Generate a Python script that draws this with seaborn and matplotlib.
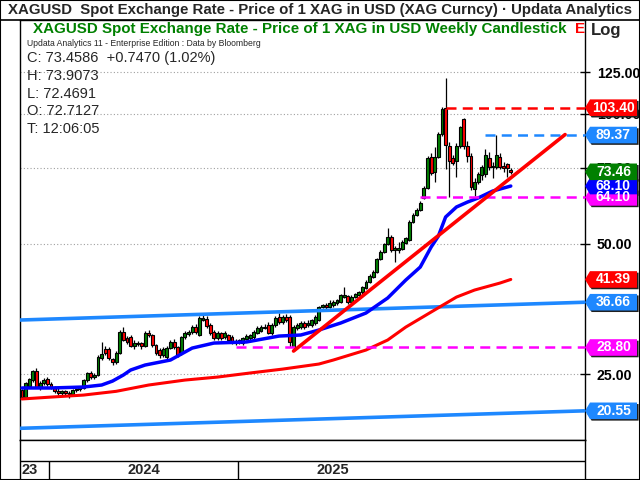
import matplotlib
matplotlib.use("Agg")
import matplotlib.pyplot as plt
from matplotlib.patches import Polygon, Rectangle
import numpy as np
import pandas as pd
import seaborn as sns

sns.set_style("white")
plt.rcParams['font.family'] = ['Liberation Sans', 'DejaVu Sans']

# weekly candles (week ending friday)
first_week = "2023-11-10"
opens = [22.95, 22.11, 23.46, 24.21, 25.40, 23.33, 23.83, 24.34, 23.71, 23.33,
         22.83, 22.59, 22.83, 22.59, 22.47, 22.95, 23.07, 23.21, 24.21, 25.14,
         24.60, 24.87, 27.24, 28.56, 28.56, 27.08, 26.66, 27.96, 31.27, 30.29,
         30.45, 29.02, 29.49, 29.49, 29.02, 31.11, 30.78, 29.18, 28.41, 27.66,
         27.37, 28.71, 29.66, 28.87, 27.96, 30.45, 30.94, 31.27, 32.11, 30.78,
         33.34, 33.52, 32.46, 31.27, 30.29, 31.11, 30.45, 30.78, 30.45, 29.81,
         29.97, 29.49, 30.13, 30.29, 30.45, 31.11, 31.44, 31.95, 32.46, 31.11,
         32.46, 33.88, 32.98, 33.88, 33.88, 28.87, 31.95, 32.11, 32.81, 32.46,
         32.46, 32.81, 33.34, 35.73, 36.11, 35.73, 36.11, 36.50, 36.70, 37.68,
         37.89, 36.70, 37.68, 38.09, 38.70, 39.54, 40.82, 41.93, 43.06, 46.16,
         47.90, 49.99, 51.90, 48.42, 48.42, 48.68, 50.26, 51.07, 56.21, 58.35,
         59.92, 63.88, 67.39, 79.50, 73.38, 79.50, 89.86, 103.40, 84.29, 79.07,
         77.82, 84.29, 97.33, 84.29, 79.90, 67.03, 69.57, 72.22, 72.61, 79.07,
         75.36, 75.36, 79.50, 75.77, 76.58, 74.10]
highs = [23.10, 24.00, 24.50, 25.60, 25.80, 24.10, 24.50, 24.60, 23.90, 23.50,
         23.20, 23.00, 23.00, 22.80, 23.10, 23.20, 23.50, 24.40, 25.30, 25.40,
         25.20, 27.60, 29.66, 29.00, 28.90, 27.30, 28.20, 31.60, 32.10, 30.70,
         30.80, 29.90, 29.80, 29.70, 31.40, 31.60, 31.00, 29.40, 28.70, 28.80,
         29.00, 30.00, 30.20, 29.10, 30.70, 31.50, 31.60, 32.40, 32.60, 34.00,
         34.42, 34.00, 32.80, 31.60, 31.40, 31.30, 31.40, 31.00, 30.80, 30.10,
         30.20, 30.50, 30.90, 31.00, 31.60, 32.30, 32.40, 32.60, 33.00, 32.80,
         34.00, 34.60, 34.20, 34.50, 34.20, 32.40, 32.90, 33.10, 33.20, 33.30,
         33.60, 34.20, 36.00, 36.40, 36.50, 37.00, 37.00, 37.30, 38.30, 39.70,
         38.20, 38.00, 38.60, 39.00, 40.00, 41.20, 42.50, 43.50, 46.50, 48.30,
         50.40, 54.40, 52.50, 49.50, 50.50, 51.00, 52.00, 56.80, 59.00, 60.50,
         62.80, 68.00, 79.80, 81.00, 83.84, 91.00, 104.00, 121.10, 86.00, 80.50,
         85.50, 94.00, 98.00, 86.50, 81.00, 71.00, 73.50, 76.00, 83.00, 81.50,
         77.50, 89.37, 81.00, 77.50, 77.20, 75.00]
lows = [21.90, 21.95, 23.30, 24.00, 23.20, 23.00, 23.60, 23.50, 23.10, 22.60,
        22.30, 22.40, 22.20, 22.00, 22.20, 22.70, 22.90, 23.10, 24.00, 24.40,
        24.40, 24.70, 27.00, 27.70, 27.00, 26.20, 26.40, 27.80, 29.80, 29.40,
        28.80, 28.50, 29.00, 28.60, 28.80, 30.40, 28.90, 27.60, 27.30, 27.40,
        27.10, 28.50, 28.60, 27.40, 27.70, 30.20, 30.70, 31.00, 31.00, 30.60,
        33.10, 32.00, 30.80, 30.00, 30.00, 30.00, 30.20, 29.70, 29.30, 29.20,
        29.40, 29.20, 29.90, 30.00, 30.20, 30.90, 31.20, 31.70, 30.90, 30.80,
        32.20, 32.70, 32.70, 33.00, 28.87, 28.26, 31.60, 31.80, 31.80, 32.20,
        32.20, 32.50, 33.10, 35.50, 35.40, 35.50, 35.80, 36.20, 36.50, 37.40,
        36.40, 36.40, 37.40, 37.80, 38.40, 39.30, 40.60, 41.70, 42.80, 45.90,
        47.60, 49.70, 48.00, 45.42, 47.60, 48.30, 49.90, 50.80, 55.90, 57.90,
        59.50, 63.40, 67.00, 72.30, 69.50, 79.00, 89.00, 74.50, 64.10, 76.00,
        71.50, 83.50, 83.00, 77.50, 66.50, 64.50, 69.00, 70.30, 71.50, 74.00,
        71.00, 74.50, 74.50, 73.50, 71.50, 72.47]
closes = [22.11, 23.83, 24.34, 25.40, 23.33, 23.83, 24.21, 23.71, 23.33, 22.83,
          22.59, 22.83, 22.59, 22.47, 22.95, 23.07, 23.33, 24.21, 25.14, 24.60,
          24.87, 27.37, 27.81, 27.96, 27.24, 26.66, 27.96, 31.27, 29.97, 29.66,
          29.02, 29.49, 29.33, 29.02, 31.11, 30.78, 29.18, 27.96, 27.66, 28.56,
          28.71, 29.66, 28.87, 27.66, 30.45, 31.11, 31.27, 32.11, 31.27, 33.70,
          33.70, 32.29, 31.11, 30.29, 31.11, 30.29, 31.11, 29.97, 29.66, 29.49,
          29.66, 30.29, 30.61, 30.78, 31.27, 31.95, 32.11, 32.11, 31.11, 32.46,
          33.70, 32.98, 33.88, 33.34, 29.66, 32.11, 32.46, 32.81, 32.11, 32.81,
          33.34, 33.88, 35.73, 36.11, 35.73, 36.50, 36.70, 37.09, 38.09, 38.09,
          36.70, 37.68, 38.30, 38.70, 39.75, 40.82, 42.15, 43.06, 46.16, 47.90,
          49.99, 51.90, 48.42, 48.94, 48.94, 50.53, 51.62, 56.21, 58.35, 59.92,
          62.21, 67.39, 79.07, 72.99, 79.50, 89.86, 102.60, 84.74, 77.82, 76.99,
          84.29, 93.26, 84.29, 79.90, 67.75, 69.57, 72.61, 75.36, 80.34, 75.36,
          75.77, 80.34, 75.36, 74.96, 74.96, 73.46]

# moving averages (week index, price)
ma_blue_week = [0, 8, 17, 22, 25, 28, 30, 34, 41, 47, 53, 62, 71, 77, 82, 88,
                95, 101, 106, 110, 113, 115, 117, 120, 123, 126, 130, 135]
ma_blue = [23.21, 23.21, 23.33, 23.58, 24.08, 24.87, 25.54, 26.23, 26.94, 28.71,
           29.49, 29.66, 30.61, 30.78, 31.61, 32.81, 34.61, 37.49, 41.26, 44.22,
           49.19, 52.15, 57.73, 60.90, 62.50, 63.90, 66.30, 68.10]
ma_red_week = [0, 8, 17, 26, 35, 45, 54, 63, 72, 82, 86, 95, 101, 106, 113, 120,
               125, 132, 135]
ma_red = [21.89, 22.11, 22.35, 22.80, 23.58, 24.21, 24.60, 25.14, 25.67, 26.37,
          26.94, 28.41, 29.97, 32.11, 34.79, 37.68, 39.12, 40.60, 41.39]

# trend lines
trend_week = [75, 150]
trend = [28.26, 89.60]
channel_week = [-0.55, 155.5]
channel_upper = [33.34, 36.66]
channel_lower = [18.72, 20.55]

# horizontal levels
level_values = [103.40, 89.37, 64.10, 28.80]
level_start = [117, 128, 110, 59]

# price tags on the right scale
tag_values = [20.55, 28.80, 36.66, 41.39, 64.10, 68.10, 73.46, 89.37, 103.40]

title = "XAGUSD  Spot Exchange Rate - Price of 1 XAG in USD (XAG Curncy) \u00b7 Updata Analytics"
subtitle = "XAGUSD Spot Exchange Rate - Price of 1 XAG in USD Weekly Candlestick"
info_lines = ["C: 73.4586  +0.7470 (1.02%)", "H: 73.9073", "L: 72.4691",
              "O: 72.7127", "T: 12:06:05"]

GREEN = "#008000"
RED = "#FF0000"
DODGER = "#1E88FF"
BLUE = "#0000FF"
MAGENTA = "#FF00FF"
level_colors = [RED, DODGER, MAGENTA, MAGENTA]
tag_colors = [DODGER, MAGENTA, DODGER, RED, MAGENTA, BLUE, GREEN, DODGER, RED]

dates = pd.date_range(first_week, periods=len(closes), freq="W-FRI")
df = pd.DataFrame({"date": dates, "open": opens, "high": highs,
                   "low": lows, "close": closes})
df["week"] = (df["date"] - df["date"].iloc[0]).dt.days / 7

W, H = 640, 480
fig = plt.figure(figsize=(6.4, 4.8), dpi=100)
ax = fig.add_axes([20 / W, 40 / H, 565 / W, 420 / H])
xmin, xmax = channel_week
ax.set_yscale("log")
ax.set_xlim(xmin, xmax)
ax.set_ylim(17.59, 165.0)

# candles
up = df["close"] >= df["open"]
ax.vlines(df["week"], df["low"], df["high"], color="black", lw=0.9, zorder=2)
ax.bar(df["week"], df["close"] - df["open"], bottom=df["open"], width=0.8,
       color=np.where(up, GREEN, RED), edgecolor="black", linewidth=0.8, zorder=2.5)

# lines
sns.lineplot(x=channel_week, y=channel_upper, ax=ax, color=DODGER, lw=2.6, zorder=3)
sns.lineplot(x=channel_week, y=channel_lower, ax=ax, color=DODGER, lw=2.6, zorder=3)
sns.lineplot(x=ma_red_week, y=ma_red, ax=ax, color=RED, lw=2.2, zorder=3)
sns.lineplot(x=ma_blue_week, y=ma_blue, ax=ax, color=BLUE, lw=2.5, zorder=3)
sns.lineplot(x=trend_week, y=trend, ax=ax, color=RED, lw=2.6, zorder=3.5)
for v, s, c in zip(level_values, level_start, level_colors):
    ax.hlines(v, s, xmax, colors=c, lw=1.8, linestyles=(0, (4, 2.5)), zorder=3.2)

# price scale
ticks = [25, 50, 75, 100, 125]
ax.set_yticks(ticks)
ax.set_yticklabels([f"{t:.2f}" for t in ticks], fontweight="bold")
ax.yaxis.set_minor_locator(plt.NullLocator())
ax.yaxis.tick_right()
ax.tick_params(axis="y", direction="inout", length=7, width=1, pad=5,
               labelsize=10.2, colors="black", right=True)
ax.set_xticks([])
ax.grid(axis="y", color="#a0a0a0", linestyle=(0, (1, 2)), lw=0.8)
for sp in ax.spines.values():
    sp.set_color("black")
    sp.set_linewidth(1)

# tags
tr = ax.get_yaxis_transform()
hf = np.exp(8.3 / 187.6)
sh = np.exp(1.5 / 187.6)
a, w = 5 / 565, 52 / 565
for v, c in zip(tag_values, tag_colors):
    for off, col, z in [(1.6 / 565, "#202020", 6), (0, c, 6.5)]:
        vv = v / (sh if off else 1)
        pts = [(1 + off, vv), (1 + a + off, vv * hf), (1 + w + off, vv * hf),
               (1 + w + off, vv / hf), (1 + a + off, vv / hf)]
        ax.add_patch(Polygon(pts, closed=True, transform=tr, clip_on=False,
                             fc=col, ec="none", zorder=z))
    ax.text(1 + (a + w) / 2, v, f"{v:.2f}", transform=tr, color="white",
            fontweight="bold", fontsize=10, ha="center", va="center",
            clip_on=False, zorder=7)

# date band
axd = fig.add_axes([20 / W, 0, 565 / W, 40 / H])
axd.set_xlim(xmin, xmax)
axd.set_ylim(40, 0)
axd.set_xticks([])
axd.set_yticks([])
for sp in axd.spines.values():
    sp.set_color("black")
    sp.set_linewidth(1)
axd.axhline(21, color="black", lw=1)
d0 = df["date"].iloc[0]
bounds = [xmin] + [(pd.Timestamp(f"{y}-01-01") - d0).days / 7 for y in (2024, 2025, 2026)]
year_labels = ["23", "2024", "2025"]
for i, lab in enumerate(year_labels):
    if i > 0:
        axd.vlines(bounds[i], 21, 40, color="black", lw=1)
    axd.text((bounds[i] + bounds[i + 1]) / 2 - (1.2 if i == 0 else 0), 30.5, lab,
             ha="center", va="center", fontsize=10.5, fontweight="bold")

# texts
def ftext(x, y, s, **kw):
    fig.text(x / W, 1 - y / H, s, va="center", **kw)

ftext(8, 10, title, fontsize=10.8, fontweight="bold")
ftext(33, 29, subtitle, fontsize=10.9, fontweight="bold", color=GREEN)
ftext(575, 29, "E", fontsize=10.9, fontweight="bold", color=RED)
ftext(591, 30, "Log", fontsize=12, fontweight="bold")
ftext(27, 44, "Updata Analytics 11 - Enterprise Edition : Data by Bloomberg", fontsize=6.2)
for i, s in enumerate(info_lines):
    ftext(27, 58 + i * 17.8, s, fontsize=10.5)

fig.add_artist(Rectangle((0, 1 - 20 / H), 1, 20 / H, transform=fig.transFigure,
                         fill=False, ec="black", lw=1.2))
fig.add_artist(Rectangle((0, 0), 1, 1, transform=fig.transFigure,
                         fill=False, ec="black", lw=1.5))

fig.savefig("out.png", dpi=100)
